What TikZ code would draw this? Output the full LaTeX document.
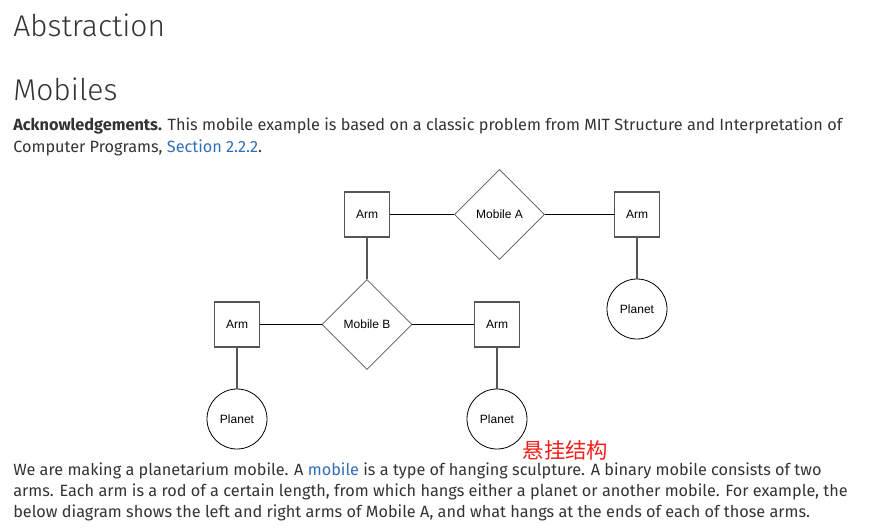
\documentclass[tikz,border=0pt]{standalone}
\usepackage{fontspec}
\setmainfont{Fira Sans}
\setsansfont{Liberation Sans}
\newfontfamily\headfont{Fira Sans Light}
\newfontfamily\cjk{Noto Sans CJK SC}
\usetikzlibrary{shapes.geometric,positioning}
\definecolor{bodytext}{HTML}{333333}
\definecolor{linkblue}{HTML}{2F6DB5}
\definecolor{boxgray}{HTML}{555555}
\definecolor{tagred}{HTML}{F2201A}

\begin{document}
\begin{tikzpicture}[x=0.75pt,y=-0.75pt,
    armbox/.style={draw=boxgray, line width=0.8pt, minimum size=33.75pt, inner sep=0pt,
        font=\sffamily\fontsize{9}{10}\selectfont},
    mobilediamond/.style={diamond, draw=boxgray, line width=0.6pt, aspect=1, minimum size=67.5pt,
        inner sep=0pt, font=\sffamily\fontsize{9}{10}\selectfont},
    planetcircle/.style={circle, draw=black, line width=0.6pt, minimum size=45pt, inner sep=0pt,
        font=\sffamily\fontsize{9}{10}\selectfont},
    rod/.style={black, line width=0.6pt},
    hang/.style={boxgray, line width=0.9pt},
    heading/.style={anchor=base west, inner sep=0pt, text=bodytext,
        font=\headfont\fontsize{22.5}{26}\selectfont},
    bodyline/.style={anchor=base west, inner sep=0pt, text=bodytext,
        font=\fontsize{12.2}{15}\selectfont},
    ]
\useasboundingbox (0,0) rectangle (871,528);

% page text
\node[heading] (abstr) at (13,37) {Abstraction};
\node[heading] (mobiles) at (13,100) {Mobiles};
\node[bodyline] (ack1) at (13,131) {\textbf{Acknowledgements.} This mobile example is based on a classic problem from MIT Structure and Interpretation of};
\node[bodyline] (ack2) at (13,152) {Computer Programs, \textcolor{linkblue}{Section 2.2.2}.};

% the mobile
\node[mobilediamond] (mobA) at (499.5,214.5) {Mobile A};
\node[armbox] (armAl) at (367,214.5) {Arm};
\node[armbox] (armAr) at (637,214.5) {Arm};
\node[planetcircle] (plAr) at (637,309) {Planet};
\node[mobilediamond] (mobB) at (367,324.5) {Mobile B};
\node[armbox] (armBl) at (237,324.5) {Arm};
\node[armbox] (armBr) at (497,324.5) {Arm};
\node[planetcircle] (plBl) at (237,419) {Planet};
\node[planetcircle] (plBr) at (497,419) {Planet};

\draw[rod] (armAl) -- (mobA);
\draw[rod] (mobA) -- (armAr);
\draw[rod] (armBl) -- (mobB);
\draw[rod] (mobB) -- (armBr);
\draw[hang] (armAl) -- (mobB);
\draw[hang] (armAr) -- (plAr);
\draw[hang] (armBl) -- (plBl);
\draw[hang] (armBr) -- (plBr);

\node[text=tagred, inner sep=0pt, font=\cjk\fontsize{16}{17}\selectfont] (tag) at (565.5,450) {悬挂结构};

% page text, below
\node[bodyline] (par1) at (13,475) {We are making a planetarium mobile. A \textcolor{linkblue}{mobile} is a type of hanging sculpture. A binary mobile consists of two};
\node[bodyline] (par2) at (13,496) {arms. Each arm is a rod of a certain length, from which hangs either a planet or another mobile. For example, the};
\node[bodyline] (par3) at (13,517) {below diagram shows the left and right arms of Mobile A, and what hangs at the ends of each of those arms.};
\end{tikzpicture}
\end{document}
